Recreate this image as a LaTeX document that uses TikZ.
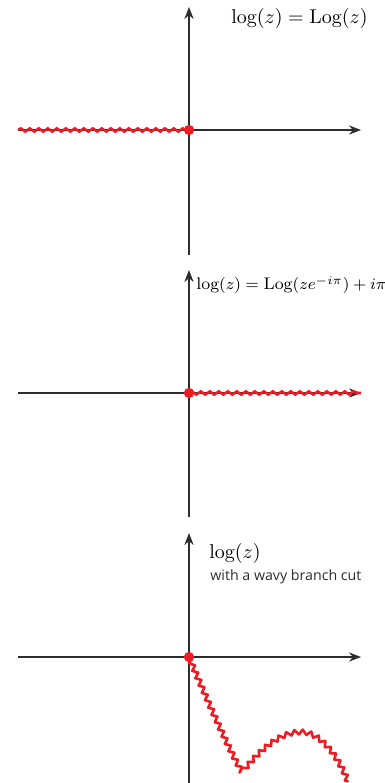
\documentclass[tikz,border=0pt]{standalone}
\usepackage{fontspec}
\newfontfamily\cutfont{Open Sans}
\usepackage{xcolor}
\definecolor{cutred}{RGB}{237,28,36}
\definecolor{axisgray}{RGB}{45,45,45}
\usepackage{tikz}
\usetikzlibrary{
    arrows.meta,
    positioning,
    calc,
    decorations.pathmorphing
}
\usepackage{amsmath, amssymb}

\begin{document}
\begin{tikzpicture}[
        x=0.5pt, y=-0.5pt,
        axis/.style={-{Stealth[length=6pt,width=4.6pt]}, line width=0.7pt, color=axisgray},
        cut/.style={line width=1.3pt, color=cutred, decorate, decoration={snake, segment length=4.5pt, amplitude=0.8pt}},
        zigcut/.style={line width=1.3pt, line join=round, color=cutred, decorate, decoration={zigzag, segment length=4pt, amplitude=1.2pt}},
        branchpt/.style={circle, fill=cutred, inner sep=0pt, minimum size=5pt}
    ]
        \useasboundingbox (0,0) rectangle (385,783);

        % panel 1: principal branch
        \coordinate (west1) at (18,130);
        \coordinate (east1) at (361,130);
        \coordinate (south1) at (189,255);
        \coordinate (north1) at (189,7);
        \draw[axis] (west1) -- (east1);
        \draw[axis] (south1) -- (north1);
        \node[branchpt] (origin1) at (189,130) {};
        \draw[cut] (west1) -- (origin1.center);
        \node[branchpt] at (origin1) {};
        \node[anchor=east, inner sep=0pt] (label1) at (368,18) {$\log(z)=\operatorname{Log}(z)$};

        % panel 2: cut along positive axis
        \coordinate (west2) at (18,393);
        \coordinate (east2) at (361,393);
        \coordinate (south2) at (189,517);
        \coordinate (north2) at (189,270);
        \draw[axis] (west2) -- (east2);
        \draw[axis] (south2) -- (north2);
        \node[branchpt] (origin2) at (189,393) {};
        \draw[cut] (origin2.center) -- (east2);
        \node[branchpt] at (origin2) {};
        \node[anchor=west, inner sep=0pt, font=\fontsize{8.4}{10}\selectfont] (label2) at (196,285) {$\log(z)=\operatorname{Log}(ze^{-i\pi})+i\pi$};

        % panel 3: wavy branch cut
        \coordinate (west3) at (18,657);
        \coordinate (east3) at (361,657);
        \coordinate (south3) at (189,783);
        \coordinate (north3) at (189,533);
        \coordinate (dip3) at (242,772);
        \coordinate (hump3) at (301,732);
        \coordinate (end3) at (348,782);
        \draw[axis] (west3) -- (east3);
        \draw[axis] (south3) -- (north3);
        \node[branchpt] (origin3) at (189,657) {};
        \draw[zigcut] (origin3.center) .. controls (205,695) and (228,748) .. (dip3)
            .. controls (262,748) and (280,732) .. (hump3)
            .. controls (322,732) and (340,760) .. (end3);
        \node[branchpt] at (origin3) {};
        \node[anchor=west, inner sep=0pt] (label3) at (209,553) {$\log(z)$};
        \node[anchor=north west, inner sep=0pt, font=\cutfont\fontsize{7.1}{8.5}\selectfont, text=axisgray] (note3) at (210,569) {with a wavy branch cut};
    \end{tikzpicture}
\end{document}
